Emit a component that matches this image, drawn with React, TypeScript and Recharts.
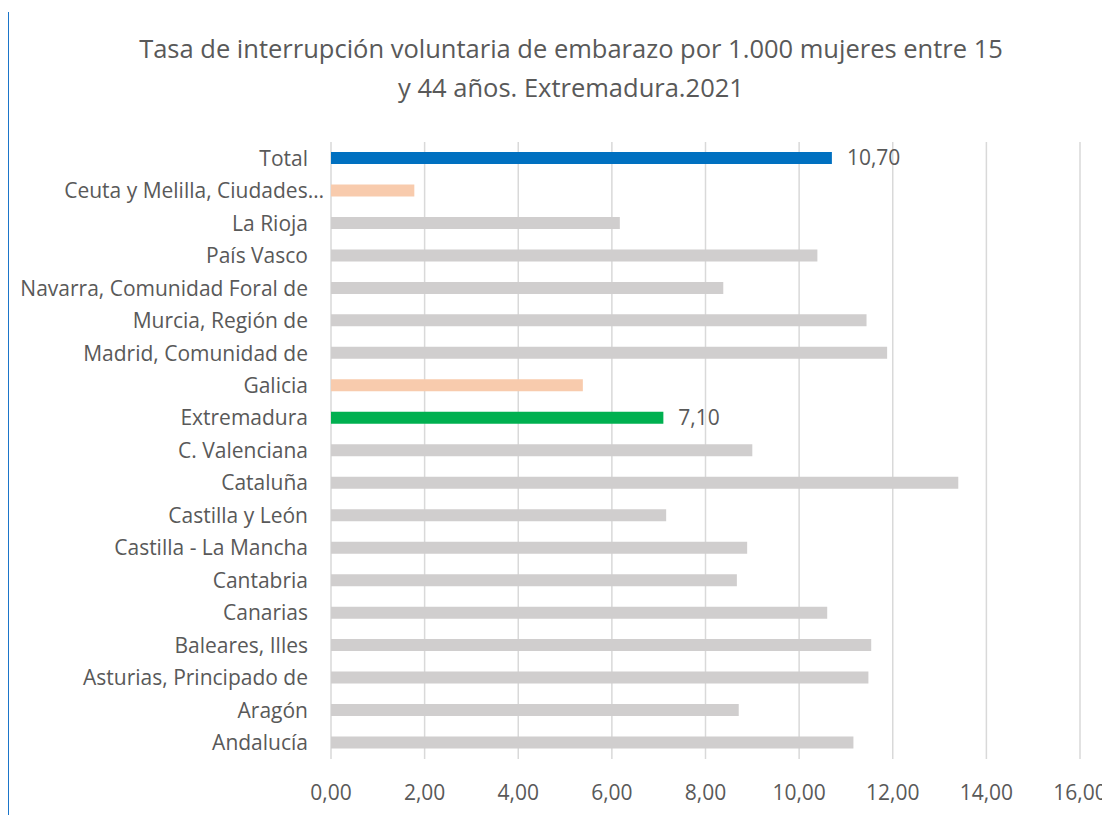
import React from 'react';
import { BarChart, Bar, XAxis, YAxis, CartesianGrid, Cell, LabelList } from 'recharts';

const categories = [
  'Total',
  'Ceuta y Melilla, Ciudades…',
  'La Rioja',
  'País Vasco',
  'Navarra, Comunidad Foral de',
  'Murcia, Región de',
  'Madrid, Comunidad de',
  'Galicia',
  'Extremadura',
  'C. Valenciana',
  'Cataluña',
  'Castilla y León',
  'Castilla - La Mancha',
  'Cantabria',
  'Canarias',
  'Baleares, Illes',
  'Asturias, Principado de',
  'Aragón',
  'Andalucía',
];

const values = [
  10.7, 1.78, 6.17, 10.39, 8.38, 11.44, 11.88, 5.38, 7.1, 9.0, 13.4, 7.16, 8.89, 8.67, 10.6, 11.54, 11.48, 8.71, 11.16,
];

const barColors = [
  '#0070C0', '#F8CBAD', '#D0CECE', '#D0CECE', '#D0CECE', '#D0CECE', '#D0CECE', '#F8CBAD', '#00B050', '#D0CECE',
  '#D0CECE', '#D0CECE', '#D0CECE', '#D0CECE', '#D0CECE', '#D0CECE', '#D0CECE', '#D0CECE', '#D0CECE',
];

const labeledCategories = ['Total', 'Extremadura'];

const xTicks = [0, 2, 4, 6, 8, 10, 12, 14, 16];

const titleLines = [
  'Tasa de interrupción voluntaria de embarazo por 1.000 mujeres entre 15',
  'y 44 años. Extremadura.2021',
];

const data = categories.map((name, i) => ({ name, value: values[i] }));

const FONT = '"Open Sans", sans-serif';
const TEXT = '#595959';
const FS = 21;

const fmt = (v: number) => v.toFixed(2).replace('.', ',');

const YTick = (props: any) => {
  const { x, y, payload } = props;
  const shift = payload.value.endsWith('…') ? 16 : 0;
  return (
    <text x={x + shift} y={y} dy="0.355em" textAnchor="end" fill={TEXT} fontSize={FS} fontFamily={FONT}>
      {payload.value}
    </text>
  );
};

const ValueLabel = (props: any) => {
  const { x, y, width, height, index } = props;
  if (!labeledCategories.includes(categories[index])) return null;
  return (
    <text x={x + width + 15} y={y + height / 2} dy="0.355em" textAnchor="start" fill={TEXT} fontSize={FS} fontFamily={FONT}>
      {fmt(values[index])}
    </text>
  );
};

export default function App() {
  return (
    <div style={{ position: 'relative', width: 1102, height: 807, background: '#fff', overflow: 'visible' }}>
      <style>
        {'html,body{overflow:hidden} #root{width:1102px;height:807px} .recharts-wrapper,svg.recharts-surface{overflow:visible !important}'}
      </style>
      <div style={{ position: 'absolute', left: -1, top: 4, width: 2, height: 803, background: '#1B75C9' }} />
      <div
        style={{
          position: 'absolute',
          left: 13,
          top: 21,
          width: 1100,
          textAlign: 'center',
          fontFamily: FONT,
          fontSize: 25.5,
          lineHeight: '39px',
          color: TEXT,
          whiteSpace: 'nowrap',
        }}
      >
        {titleLines.map((l) => (
          <div key={l}>{l}</div>
        ))}
      </div>
      <div style={{ position: 'absolute', left: 0, top: 0 }}>
        <BarChart
          width={1102}
          height={799}
          data={data}
          layout="vertical"
          margin={{ top: 134, right: 30, bottom: 8, left: 0 }}
          barSize={12}
          style={{ overflow: 'visible' }}
        >
          <CartesianGrid horizontal={false} stroke="#D9D9D9" strokeWidth={1.5} />
          <XAxis
            type="number"
            domain={[0, 16]}
            ticks={xTicks}
            tickFormatter={fmt}
            axisLine={false}
            tickLine={false}
            tickSize={0}
            tickMargin={26}
            height={40}
            interval={0}
            tick={{ fill: TEXT, fontSize: FS, fontFamily: FONT }}
          />
          <YAxis
            type="category"
            dataKey="name"
            width={323}
            axisLine={false}
            tickLine={false}
            tickSize={0}
            tickMargin={23}
            interval={0}
            tick={<YTick />}
          />
          <Bar dataKey="value" isAnimationActive={false}>
            {data.map((d, i) => (
              <Cell key={d.name} fill={barColors[i]} />
            ))}
            <LabelList dataKey="value" content={<ValueLabel />} />
          </Bar>
        </BarChart>
      </div>
    </div>
  );
}
